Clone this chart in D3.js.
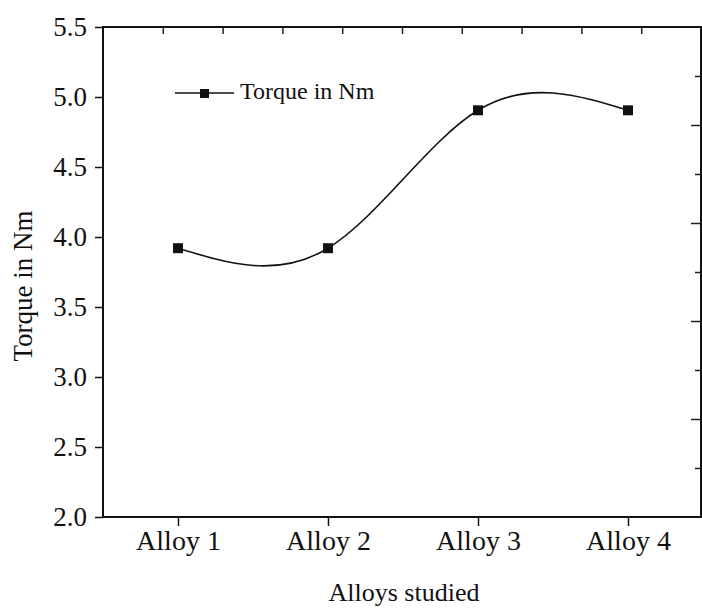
<!DOCTYPE html>
<html>
<head>
<meta charset="utf-8">
<script src="https://cdn.jsdelivr.net/npm/d3@7"></script>
<style>
  html, body { margin: 0; padding: 0; background: #fff; }
  svg text { font-family: "Liberation Serif", "Times New Roman", serif !important; fill: #111; }
</style>
</head>
<body>
<svg id="chart" width="702" height="608"></svg>
<script>
const categories = ["Alloy 1", "Alloy 2", "Alloy 3", "Alloy 4"];
const torque = [3.92, 3.92, 4.905, 4.905];
const yTicks = [2.0, 2.5, 3.0, 3.5, 4.0, 4.5, 5.0, 5.5];
const seriesName = "Torque in Nm";
const xTitle = "Alloys studied";
const yTitle = "Torque in Nm";
const topTicks = [1, 2, 3, 4, 5, 6, 7, 8, 9];
const rightMajor = [2, 4, 6, 8];
const rightMinor = [1, 3, 5, 7, 9];

const FONT = "Liberation Serif, Times New Roman, serif";
const L = 103, R = 701, T = 27, B = 517;
const svg = d3.select("#chart");

const x = d3.scalePoint().domain(categories).range([L, 703]).padding(0.5);
const y = d3.scaleLinear().domain([2.0, 5.5]).range([B, T]);
const x2 = d3.scaleLinear().domain([0, 10]).range([L, R]);
const y2 = d3.scaleLinear().domain([0, 10]).range([B, T]);

// bottom axis
const gx = svg.append("g").attr("transform", `translate(0,${B})`)
  .call(d3.axisBottom(x).tickSizeInner(9).tickSizeOuter(0).tickPadding(6))
  .attr("font-family", FONT);
gx.select(".domain").remove();
gx.selectAll(".tick line").attr("stroke", "#111").attr("stroke-width", 1.5);
gx.selectAll(".tick text").attr("font-size", 28).attr("font-family", FONT).attr("dy", "0.71em").attr("y", 13);

// left axis
const gy = svg.append("g").attr("transform", `translate(${L},0)`)
  .call(d3.axisLeft(y).tickValues(yTicks).tickFormat(d3.format(".1f")).tickSizeInner(8).tickSizeOuter(0).tickPadding(8))
  .attr("font-family", FONT);
gy.select(".domain").remove();
gy.selectAll(".tick line").attr("stroke", "#111").attr("stroke-width", 1.5);
gy.selectAll(".tick text").attr("font-size", 27).attr("font-family", FONT);

// top axis (inward ticks)
const gt = svg.append("g").attr("transform", `translate(0,${T})`)
  .call(d3.axisBottom(x2).tickValues(topTicks).tickSizeInner(7).tickSizeOuter(0).tickFormat(""));
gt.select(".domain").remove();
gt.selectAll(".tick line").attr("stroke", "#222").attr("stroke-width", 1.5);

// right axis (inward ticks)
const gr = svg.append("g").attr("transform", `translate(${R},0)`)
  .call(d3.axisLeft(y2).tickValues(rightMajor).tickSizeInner(10).tickSizeOuter(0).tickFormat(""));
gr.select(".domain").remove();
gr.selectAll(".tick line").attr("stroke", "#222").attr("stroke-width", 1.5);
const gr2 = svg.append("g").attr("transform", `translate(${R},0)`)
  .call(d3.axisLeft(y2).tickValues(rightMinor).tickSizeInner(6).tickSizeOuter(0).tickFormat(""));
gr2.select(".domain").remove();
gr2.selectAll(".tick line").attr("stroke", "#222").attr("stroke-width", 1.5);

// frame
svg.append("rect").attr("x", L).attr("y", T).attr("width", R - L).attr("height", B - T)
  .attr("fill", "none").attr("stroke", "#111").attr("stroke-width", 2);

// curve
const pts = categories.map((c, i) => [x(c), y(torque[i])]);
svg.append("path").datum(pts)
  .attr("d", d3.line().curve(d3.curveNatural))
  .attr("fill", "none").attr("stroke", "#111").attr("stroke-width", 1.6);

svg.selectAll("rect.pt").data(pts).join("rect").attr("class", "pt")
  .attr("x", d => d[0] - 5).attr("y", d => d[1] - 5)
  .attr("width", 10).attr("height", 10).attr("fill", "#111");

// legend
const lg = svg.append("g");
lg.append("line").attr("x1", 175).attr("x2", 234).attr("y1", 93).attr("y2", 93)
  .attr("stroke", "#111").attr("stroke-width", 1.5);
lg.append("rect").attr("x", 200).attr("y", 89).attr("width", 9).attr("height", 9).attr("fill", "#111");
lg.append("text").attr("x", 240).attr("y", 99).attr("font-size", 24).attr("font-family", FONT).text(seriesName);

// axis titles
svg.append("text").attr("x", 404).attr("y", 601).attr("text-anchor", "middle")
  .attr("font-size", 26).attr("font-family", FONT).text(xTitle);
svg.append("text").attr("transform", "translate(32,286) rotate(-90)").attr("text-anchor", "middle")
  .attr("font-size", 27).attr("font-family", FONT).text(yTitle);
</script>
</body>
</html>
